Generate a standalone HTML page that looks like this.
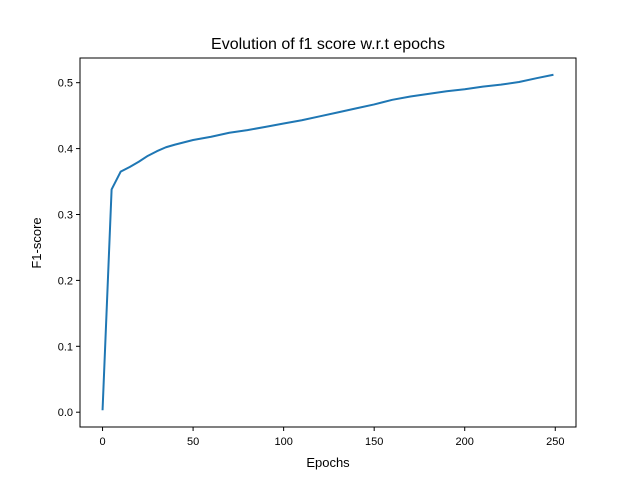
<!DOCTYPE html>
<html><head><meta charset="utf-8"><style>
body{margin:0;background:#fff;}
text{font-family:"Liberation Sans","DejaVu Sans",sans-serif;fill:#000;}
</style></head><body>
<svg id="chart" width="640" height="480" xmlns="http://www.w3.org/2000/svg">
<rect width="640" height="480" fill="#fff"/>
<text x="328" y="49" font-size="16" text-anchor="middle">Evolution of f1 score w.r.t epochs</text>
<text x="328" y="467" font-size="13" text-anchor="middle">Epochs</text>
<text transform="translate(41,243) rotate(-90)" font-size="13" text-anchor="middle">F1-score</text>
<g id="ticks"></g>
<path id="line" fill="none" stroke="#1f77b4" stroke-width="2" stroke-linejoin="round"/>
<rect x="80" y="58" width="496" height="369" fill="none" stroke="#000" stroke-width="1"/>
</svg>
<script>
const epochs=[0,5,10,15,20,25,30,35,40,50,60,70,80,90,100,110,120,130,140,150,160,170,180,190,200,210,220,230,240,249];
const f1=[0.003,0.338,0.365,0.372,0.380,0.389,0.396,0.402,0.406,0.413,0.418,0.424,0.428,0.433,0.438,0.443,0.449,0.455,0.461,0.467,0.474,0.479,0.483,0.487,0.490,0.494,0.497,0.501,0.507,0.512];
const xTicks=[0,50,100,150,200,250];
const yTicks=[0.0,0.1,0.2,0.3,0.4,0.5];
const L=80,R=576,T=58,B=427;
const xmin=0,xmax=249,xm=(xmax-xmin)*0.05;
const ymin=Math.min(...f1),ymax=Math.max(...f1),ym=(ymax-ymin)*0.05;
const sx=v=>L+(v-(xmin-xm))/((xmax+xm)-(xmin-xm))*(R-L);
const sy=v=>B-(v-(ymin-ym))/((ymax+ym)-(ymin-ym))*(B-T);
const ns="http://www.w3.org/2000/svg",g=document.getElementById('ticks');
function mk(t,a){const e=document.createElementNS(ns,t);for(const k in a)e.setAttribute(k,a[k]);g.appendChild(e);return e;}
xTicks.forEach(v=>{const x=sx(v);
const l=mk('line',{x1:x,x2:x,y1:B,y2:B+4,stroke:'#000'});


const t=mk('text',{x:x,y:B+18,'font-size':11,'text-anchor':'middle'});t.textContent=v;

});
yTicks.forEach(v=>{const y=sy(v);
const l=mk('line',{x1:L-4,x2:L,y1:y,y2:y,stroke:'#000'});


const t=mk('text',{x:L-7,y:y+4,'font-size':11,'text-anchor':'end'});t.textContent=v.toFixed(1);

});
document.getElementById('line').setAttribute('d',epochs.map((e,i)=>(i?'L':'M')+sx(e).toFixed(2)+','+sy(f1[i]).toFixed(2)).join(''));
</script>
</body></html>
